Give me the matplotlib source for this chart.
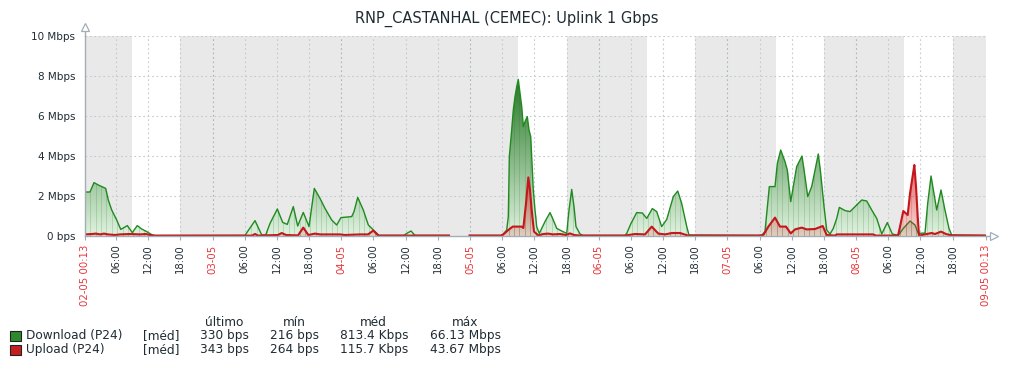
import numpy as np
import matplotlib
matplotlib.use('Agg')
import matplotlib.pyplot as plt
from matplotlib.path import Path
from matplotlib.patches import Rectangle

# hours since 02-05 00:13, values in Mbps (nan = no data)
dl_hours = [0.0, 0.93, 1.68, 2.48, 3.11, 3.86, 4.34, 4.98, 5.91, 6.66, 7.14, 7.89, 8.82, 9.75,
            10.57, 11.50, 12.44, 13.05, 29.83, 31.70, 32.95, 33.69, 34.50, 35.86, 36.86, 37.72,
            38.84, 39.66, 40.70, 41.77, 42.76, 43.82, 44.75, 46.00, 46.93, 47.73, 49.73, 50.16,
            50.85, 51.89, 52.83, 54.07, 54.82, 59.48, 59.99, 60.79, 61.53, 67.87, 69.8, 71.70,
            77.57, 78.00, 78.63, 78.93, 79.12, 79.56, 79.86, 80.18, 80.50, 80.79, 81.11, 81.43,
            81.73, 82.04, 82.47, 82.79, 83.11, 83.29, 83.59, 83.91, 84.22, 84.71, 85.16, 85.77,
            86.71, 87.32, 87.96, 88.89, 89.82, 90.25, 90.75, 91.18, 91.55, 92.30, 92.86, 100.69,
            101.01, 101.81, 102.87, 103.92, 104.74, 105.78, 106.60, 107.53, 108.47, 109.70,
            110.52, 111.26, 112.20, 112.62, 125.49, 126.23, 126.79, 127.11, 127.60, 128.66,
            129.09, 129.72, 130.52, 130.95, 131.59, 132.07, 132.70, 133.69, 134.25, 134.76,
            135.50, 136.12, 136.73, 137.18, 137.80, 138.30, 138.92, 139.53, 140.17, 140.65,
            141.71, 142.65, 143.58, 144.83, 145.76, 146.69, 147.62, 148.56, 149.60, 150.53,
            151.65, 152.58, 153.83, 154.76, 155.38, 156.63, 157.13, 157.75, 158.49, 158.81,
            159.61, 160.35, 161.10, 161.60, 167.82]
dl_mbps = [2.2, 2.2, 2.67, 2.55, 2.47, 2.38, 1.8, 1.3, 0.8, 0.33, 0.4, 0.52, 0.17, 0.52,
           0.35, 0.22, 0.07, 0.02, 0.03, 0.77, 0.05, 0.05, 0.63, 1.35, 0.68, 0.58,
           1.47, 0.5, 1.18, 0.47, 2.38, 1.88, 1.38, 0.8, 0.55, 0.92, 0.97, 1.22,
           1.93, 1.3, 0.55, 0.22, 0.03, 0.03, 0.13, 0.25, 0.03, 0.03, np.nan, 0.03,
           0.03, 0.1, 0.3, 0.97, 3.97, 5.3, 6.3, 6.97, 7.47, 7.83, 7.13, 6.47,
           5.47, 5.72, 5.97, 5.3, 4.97, 3.97, 2.3, 1.3, 0.47, 0.13, 0.38, 0.72,
           1.17, 0.8, 0.38, 0.25, 0.13, 1.3, 2.33, 1.47, 0.47, 0.1, 0.03, 0.03,
           0.13, 0.63, 1.17, 1.15, 0.88, 1.37, 1.22, 0.47, 0.83, 1.97,
           2.25, 1.63, 0.47, 0.05, 0.03, 0.05, 0.22, 1.13, 2.47, 2.47,
           3.63, 4.3, 3.72, 3.3, 1.72, 2.47, 3.47, 4.0, 2.97, 1.97,
           2.47, 3.3, 4.1, 3.13, 1.47, 0.3, 0.1, 0.38, 0.88, 1.43,
           1.27, 1.22, 1.47, 1.8, 1.75, 1.3, 0.88, 0.1, 0.67, 0.1,
           0.03, 0.38, 0.75, 0.55, 0.13, 0.15, 1.63, 3.0, 1.8, 1.3,
           2.3, 1.3, 0.38, 0.05, 0.03]

ul_hours = [0.0, 1.31, 2.05, 2.80, 3.54, 4.29, 5.59, 6.53, 8.39, 10.26, 11.37, 12.12, 12.68,
            31.14, 31.70, 32.26, 35.99, 36.68, 37.48, 39.72, 40.70, 41.64, 42.88, 43.82, 47.55,
            48.48, 51.28, 52.77, 53.76, 54.69, 67.87, 69.8, 71.70, 77.57, 78.00, 78.93, 79.75,
            81.43, 81.73, 82.23, 82.66, 82.98, 83.29, 83.72, 84.52, 85.46, 86.33, 87.26, 88.57,
            89.69, 90.43, 91.18, 92.30, 100.69, 102.55, 104.42, 105.67, 106.90, 108.15, 109.45,
            110.95, 112.44, 125.87, 126.48, 127.42, 128.66, 129.59, 130.71, 131.59, 132.39,
            133.64, 134.57, 136.12, 137.55, 138.30, 139.85, 140.17, 146.93, 147.49, 151.59,
            151.97, 152.58, 153.40, 153.83, 154.45, 154.64, 154.95, 155.27, 155.51, 156.95,
            157.88, 158.49, 159.61, 160.54, 161.60, 167.82]
ul_mbps = [0.08, 0.1, 0.12, 0.08, 0.12, 0.08, 0.05, 0.08, 0.1, 0.08, 0.1, 0.05, 0.02,
           0.02, 0.1, 0.02, 0.05, 0.15, 0.05, 0.03, 0.42, 0.05, 0.12, 0.08, 0.08,
           0.05, 0.08, 0.08, 0.27, 0.02, 0.02, np.nan, 0.02, 0.02, 0.08, 0.3, 0.47,
           0.47, 0.4, 1.63, 2.93, 2.3, 1.3, 0.22, 0.03, 0.1, 0.12, 0.08, 0.1,
           0.05, 0.13, 0.05, 0.02, 0.02, 0.1, 0.08, 0.47, 0.12, 0.08, 0.15,
           0.15, 0.02, 0.02, 0.05, 0.47, 0.92, 0.47, 0.47, 0.13, 0.33,
           0.42, 0.33, 0.35, 0.5, 0.05, 0.02, 0.08, 0.08, 0.02, 0.02,
           0.47, 1.25, 1.05, 2.13, 3.22, 3.55, 2.47, 0.97, 0.02, 0.1,
           0.15, 0.1, 0.22, 0.1, 0.03, 0.02]

start_min = 13  # first sample at 00:13
days = ['02-05', '03-05', '04-05', '05-05', '06-05', '07-05', '08-05', '09-05']
workdays = ['02-05', '05-05', '06-05', '07-05', '08-05']
work_start, work_end = 9, 18

y_ticks = [0, 2, 4, 6, 8, 10]
y_labels = ['0 bps', '2 Mbps', '4 Mbps', '6 Mbps', '8 Mbps', '10 Mbps']

legend_names = ['Download (P24)', 'Upload (P24)']
legend_cols = ['último', 'mín', 'méd', 'máx']
legend_vals = [['330 bps', '216 bps', '813.4 Kbps', '66.13 Mbps'],
               ['343 bps', '264 bps', '115.7 Kbps', '43.67 Mbps']]

txt = '#1f2c33'
red_txt = '#e8363a'
axis_c = '#a3adb5'
grid_c = '#c3cbd2'
band_c = '#e9e9e9'
green = '#1f8a1f'
red = '#c4161c'

W, H = 1016, 368
fig = plt.figure(figsize=(W / 100, H / 100), dpi=100)
ax = fig.add_axes([85 / W, 1 - 236 / H, 901 / W, 200 / H])

t_end = 24 * 7
off = start_min / 60.0
ax.set_xlim(0, t_end)
ax.set_ylim(0, 10)

# working time shading
ax.axvspan(0, t_end, color=band_c, lw=0, zorder=0)
for d, name in enumerate(days):
    if name in workdays:
        ax.axvspan(24 * d - off + work_start, 24 * d - off + work_end, color='white', lw=0, zorder=0.1)

# grid
for yv in y_ticks[1:]:
    ax.axhline(yv, color=grid_c, lw=0.8, ls=(0, (1.5, 2.5)), zorder=0.5)
tick_pos, tick_lab, tick_col = [0], ['02-05 00:13'], [red_txt]
for k in range(1, 28):
    p = 6 * k - off
    day = (k % 4 == 0)
    ax.axvline(p, color='#aab4bc' if day else grid_c, lw=0.8, ls=(0, (1.5, 2.5)), zorder=0.5)
    tick_pos.append(p)
    tick_lab.append(days[k // 4] if day else '%02d:00' % ((6 * k) % 24))
    tick_col.append(red_txt if day else txt)
tick_pos.append(t_end)
tick_lab.append('09-05 00:13')
tick_col.append(red_txt)


def gradient_fill(x, y, rgb_lo, rgb_hi, a_lo, a_hi, ytop, z):
    coll = ax.fill_between(x, 0, y, color='none', lw=0)
    path = Path.make_compound_path(*coll.get_paths())
    yy = np.linspace(0, 10, 300)
    f = np.clip(yy / ytop, 0, 1)
    img = np.zeros((300, 1, 4))
    for c in range(3):
        img[:, 0, c] = rgb_lo[c] + (rgb_hi[c] - rgb_lo[c]) * f
    img[:, 0, 3] = a_lo + (a_hi - a_lo) * f
    im = ax.imshow(img, extent=[0, t_end, 0, 10], origin='lower', aspect='auto',
                   interpolation='bilinear', zorder=z)
    im.set_clip_path(path, ax.transData)


dl_h, dl_v = np.array(dl_hours), np.array(dl_mbps)
ul_h, ul_v = np.array(ul_hours), np.array(ul_mbps)

gradient_fill(dl_h, dl_v, (0.88, 0.95, 0.88), (0.14, 0.46, 0.14), 1, 1, 8.0, 1)
hrs = np.arange(0, t_end + 1)
sv = np.interp(hrs, dl_h, dl_v)
ok = ~np.isnan(sv)
ax.vlines(hrs[ok], 0, sv[ok], color='#1f7a1f', lw=0.6, alpha=0.22, zorder=1.5)
ax.plot(dl_h, dl_v, color=green, lw=1.0, zorder=2)

gradient_fill(ul_h, ul_v, (0.85, 0.2, 0.2), (0.85, 0.1, 0.1), 0.18, 0.85, 4.5, 3)
sv = np.interp(hrs, ul_h, ul_v)
ok = ~np.isnan(sv)
ax.vlines(hrs[ok], 0, sv[ok], color='#a01010', lw=0.6, alpha=0.2, zorder=3.5)
ax.plot(ul_h, ul_v, color=red, lw=1.5, zorder=4)

# axes
for s in ['top', 'right']:
    ax.spines[s].set_visible(False)
for s in ['left', 'bottom']:
    ax.spines[s].set_color(axis_c)
    ax.spines[s].set_linewidth(1.0)
    ax.spines[s].set_zorder(5)
ax.plot([0, 0], [1, 1.025], transform=ax.transAxes, color=axis_c, lw=1, clip_on=False)
ax.plot([0], [1.045], transform=ax.transAxes, marker='^', ms=6, mfc='white', mec=axis_c,
        mew=0.9, clip_on=False)
ax.plot([1, 1.004], [0, 0], transform=ax.transAxes, color=axis_c, lw=1, clip_on=False)
ax.plot([1.0085], [0], transform=ax.transAxes, marker='>', ms=6, mfc='white', mec=axis_c,
        mew=0.9, clip_on=False)

ax.set_yticks(y_ticks)
ax.set_yticklabels(y_labels, fontsize=7.5, color=txt)
ax.tick_params(axis='y', length=0, pad=7)
ax.set_xticks(tick_pos)
ax.set_xticklabels(tick_lab, rotation=90, fontsize=7.3, va='top', ha='center')
for lab, c in zip(ax.get_xticklabels(), tick_col):
    lab.set_color(c)
ax.tick_params(axis='x', length=3, color=axis_c, pad=3)

fig.text(507 / W, 1 - 19 / H, 'RNP_CASTANHAL (CEMEC): Uplink 1 Gbps', ha='center', va='center',
         fontsize=10.5, color=txt)

# legend table
col_x = [200, 270, 340, 430]
col_c = [224, 294, 373, 465]
for name, cx in zip(legend_cols, col_c):
    fig.text(cx / W, 1 - 322 / H, name, ha='center', va='center', fontsize=8.7, color=txt)
for i, (name, sw) in enumerate(zip(legend_names, ['#2f8a2f', '#c41e1e'])):
    yc = 336 + 14 * i
    fig.patches.append(Rectangle((10 / W, 1 - (yc + 5) / H), 11 / W, 10 / H, transform=fig.transFigure,
                                 facecolor=sw, edgecolor='#222222', lw=0.8))
    fig.text(26 / W, 1 - yc / H, name, ha='left', va='center', fontsize=8.7, color=txt)
    fig.text(143 / W, 1 - yc / H, '[méd]', ha='left', va='center', fontsize=8.7, color=txt)
    for v, cx in zip(legend_vals[i], col_x):
        fig.text(cx / W, 1 - yc / H, v, ha='left', va='center', fontsize=8.7, color=txt)

fig.savefig('out.png', dpi=100)
plt.close()
